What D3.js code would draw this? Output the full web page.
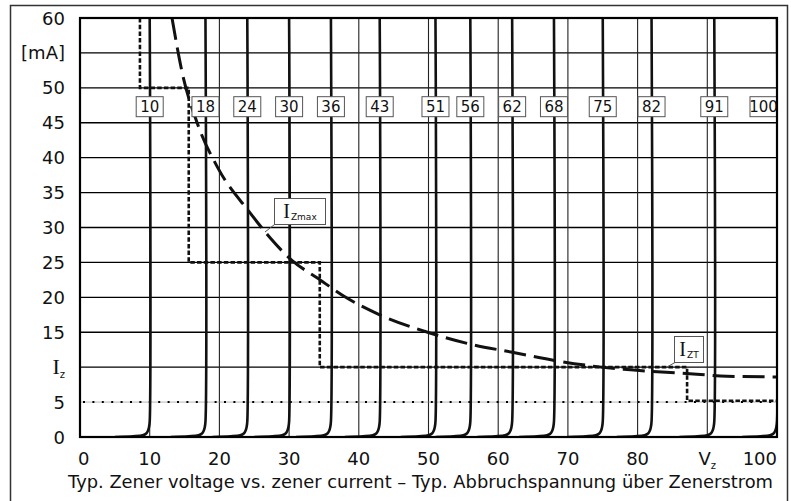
<!DOCTYPE html>
<html>
<head>
<meta charset="utf-8">
<script src="https://cdn.jsdelivr.net/npm/d3@7"></script>
<style>
  body { margin: 0; background: #fff; }
  svg { display: block; }
</style>
</head>
<body>
<div id="chart"></div>
<script>
// Zener voltages of the curve family [V]
var zenerVolts = [10, 18, 24, 30, 36, 43, 51, 56, 62, 68, 75, 82, 91, 100];

// Knee shape shared by every curve: offset from Vz [V] and current [mA]
var kneeDv = [-5, -2.4, -1.0, -0.5, -0.25, -0.1, 0, 0];
var kneeI  = [0, 0.1, 0.25, 0.5, 0.9, 1.4, 2.2, 60];

// I_Zmax curve (max current)
var izmaxV = [13.2, 14.7, 16.8, 19.8, 24.4, 27.3, 30.4, 34.0, 38.3, 43.0, 50.2, 56.0, 62.2, 68.4, 73.2, 78.0, 88.5, 92.8, 100];
var izmaxI = [60, 52, 45, 38.5, 32.1, 28.5, 25.3, 22.8, 19.9, 17.5, 14.9, 13.3, 12.1, 10.9, 10.2, 9.7, 9.0, 8.7, 8.6];

// I_ZT test current steps
var iztV = [8.6, 8.6, 15.6, 15.6, 34.4, 34.4, 87.1, 87.1, 100];
var iztI = [60, 50, 50, 25, 25, 10, 10, 5.2, 5.2];

// Axis ticks
var xTicks = [0, 10, 20, 30, 40, 50, 60, 70, 80, 90, 100];
var xTickLabels = ["0", "10", "20", "30", "40", "50", "60", "70", "80", "V|z", "100"];
var yTicks = [0, 5, 10, 15, 20, 25, 30, 35, 40, 45, 50, 55, 60];
var yTickLabels = ["0", "5", "I|z", "15", "20", "25", "30", "35", "40", "45", "50", "[mA]", "60"];
var xGridThin = [10, 20, 30, 40, 50, 60, 70, 80, 90];

var title = "Typ. Zener voltage vs. zener current  \u2013  Typ. Abbruchspannung \u00fcber Zenerstrom";

var W = 791, H = 501;
var sansFont = "'DejaVu Sans', Verdana, sans-serif";
var serifFont = "'Liberation Serif', 'DejaVu Serif', serif";

var svg = d3.select("#chart")
  .append("svg")
    .attr("width", W)
    .attr("height", H);

var x = d3.scaleLinear().domain([0, 100]).range([80, 777]);
var y = d3.scaleLinear().domain([0, 60]).range([437, 18]);

svg.append("clipPath").attr("id", "plotClip")
  .append("rect")
    .attr("x", x(0)).attr("y", y(60))
    .attr("width", x(100) - x(0)).attr("height", y(0) - y(60));

// outer frame (bottom edge runs off the page)
svg.append("path")
  .attr("d", "M10.5,501V5.5H787.5V501")
  .attr("fill", "none")
  .attr("stroke", "#333")
  .attr("stroke-width", 1.5);

var plot = svg.append("g").attr("clip-path", "url(#plotClip)");

//////////////////////// grid
plot.selectAll(".hgrid")
  .data(yTicks.filter(function(d) { return d > 0 && d < 60 && d !== 5; }))
  .enter().append("line")
    .attr("x1", x(0)).attr("x2", x(100))
    .attr("y1", function(d) { return y(d); })
    .attr("y2", function(d) { return y(d); })
    .attr("stroke", "#000")
    .attr("stroke-width", 1.4);

plot.selectAll(".vgrid")
  .data(xGridThin)
  .enter().append("line")
    .attr("x1", function(d) { return x(d); })
    .attr("x2", function(d) { return x(d); })
    .attr("y1", y(0)).attr("y2", y(60))
    .attr("stroke", "#222")
    .attr("stroke-width", 1.1);

// dotted 5 mA line
plot.append("line")
  .attr("x1", x(0)).attr("x2", x(100))
  .attr("y1", y(5)).attr("y2", y(5))
  .attr("stroke", "#888")
  .attr("stroke-width", 0.6);
plot.append("line")
  .attr("x1", x(0) + 3).attr("x2", x(100))
  .attr("y1", y(5)).attr("y2", y(5))
  .attr("stroke", "#000")
  .attr("stroke-width", 2)
  .attr("stroke-dasharray", "2,7.4");

//////////////////////// zener curves
var knee = kneeDv.map(function(d, i) { return { dv: d, i: kneeI[i] }; });
zenerVolts.forEach(function(vz) {
  plot.append("path")
    .datum(knee)
    .attr("fill", "none")
    .attr("stroke", "#111")
    .attr("stroke-width", 2.6)
    .attr("d", d3.line()
      .x(function(d) { return x(vz + d.dv); })
      .y(function(d) { return y(d.i); })
      .curve(d3.curveCatmullRom.alpha(0.5)));
});

//////////////////////// I_Zmax dashed curve
var izmax = izmaxV.map(function(v, i) { return { v: v, i: izmaxI[i] }; });
plot.append("path")
  .datum(izmax)
  .attr("fill", "none")
  .attr("stroke", "#111")
  .attr("stroke-width", 3)
  .attr("stroke-dasharray", "22,8")
  .attr("d", d3.line()
    .x(function(d) { return x(d.v); })
    .y(function(d) { return y(d.i); })
    .curve(d3.curveMonotoneX));

//////////////////////// I_ZT step line
var izt = iztV.map(function(v, i) { return { v: v, i: iztI[i] }; });
plot.append("path")
  .datum(izt)
  .attr("fill", "none")
  .attr("stroke", "#111")
  .attr("stroke-width", 2.6)
  .attr("stroke-dasharray", "4.5,2.2")
  .attr("d", d3.line()
    .x(function(d) { return x(d.v); })
    .y(function(d) { return y(d.i); }));

//////////////////////// voltage boxes
var boxW = 27, boxH = 20, boxMid = 47.3;
var boxes = svg.selectAll(".vbox")
  .data(zenerVolts)
  .enter().append("g")
    .attr("transform", function(d) {
      var bx = Math.min(x(d) - boxW / 2, x(100) - boxW);
      return "translate(" + bx + "," + (y(boxMid) - boxH / 2) + ")";
    });
boxes.append("rect")
  .attr("width", boxW).attr("height", boxH)
  .attr("fill", "#fff")
  .attr("stroke", "#555")
  .attr("stroke-width", 1);
boxes.append("text")
  .attr("x", boxW / 2).attr("y", boxH / 2 + 5.5)
  .attr("text-anchor", "middle")
  .style("font-family", sansFont)
  .style("font-size", "15px")
  .attr("fill", "#111")
  .text(function(d) { return d; });

//////////////////////// curve labels
function labelBox(bx, by, bw, bh, sub, leader) {
  svg.append("line")
    .attr("x1", leader[0]).attr("y1", leader[1])
    .attr("x2", leader[2]).attr("y2", leader[3])
    .attr("stroke", "#555").attr("stroke-width", 1);
  svg.append("rect")
    .attr("x", bx).attr("y", by).attr("width", bw).attr("height", bh)
    .attr("fill", "#fff").attr("stroke", "#555").attr("stroke-width", 1);
  var t = svg.append("text")
    .attr("x", bx + bw / 2).attr("y", by + bh - 7)
    .attr("text-anchor", "middle")
    .attr("fill", "#111");
  t.append("tspan").style("font-family", serifFont).style("font-size", "20px").text("I");
  t.append("tspan").style("font-family", sansFont).style("font-size", "9px")
    .attr("dx", 1).attr("dy", 2).text(sub);
}
labelBox(274.5, 198.5, 51, 26, "Zmax", [274.5, 224.5, 265, 232]);
labelBox(674.5, 336.5, 29, 26, "ZT", [675, 362.5, 667, 367]);

//////////////////////// axes labels
function tickText(sel, label) {
  var parts = label.split("|");
  if (parts.length === 1) { sel.text(label); return; }
  var main = sel.append("tspan").text(parts[0]);
  if (parts[0] === "I") main.style("font-family", serifFont).style("font-size", "22px");
  sel.append("tspan").style("font-size", "10px").attr("dy", 4).text(parts[1]);
}

svg.selectAll(".ylab")
  .data(yTicks)
  .enter().append("text")
    .attr("x", 65)
    .attr("y", function(d) { return y(d) + 6.5; })
    .attr("text-anchor", "end")
    .style("font-family", sansFont)
    .style("font-size", "18px")
    .attr("fill", "#111")
    .each(function(d, i) { tickText(d3.select(this), yTickLabels[i]); });

svg.selectAll(".xlab")
  .data(xTicks)
  .enter().append("text")
    .attr("x", function(d) { return d === 0 ? x(d) - 2 : x(d); })
    .attr("y", 465)
    .attr("text-anchor", function(d) { return d === 0 ? "start" : d === 100 ? "end" : "middle"; })
    .style("font-family", sansFont)
    .style("font-size", "18px")
    .attr("fill", "#111")
    .each(function(d, i) { tickText(d3.select(this), xTickLabels[i]); });

svg.append("text")
  .attr("x", 68).attr("y", 488)
  .attr("textLength", 705)
  .attr("lengthAdjust", "spacingAndGlyphs")
  .style("font-family", sansFont)
  .style("font-size", "17.5px")
  .attr("fill", "#111")
  .text(title);

//////////////////////// plot frame
svg.append("rect")
  .attr("x", x(0)).attr("y", y(60))
  .attr("width", x(100) - x(0)).attr("height", y(0) - y(60))
  .attr("fill", "none")
  .attr("stroke", "#000")
  .attr("stroke-width", 2.2);
</script>
</body>
</html>
